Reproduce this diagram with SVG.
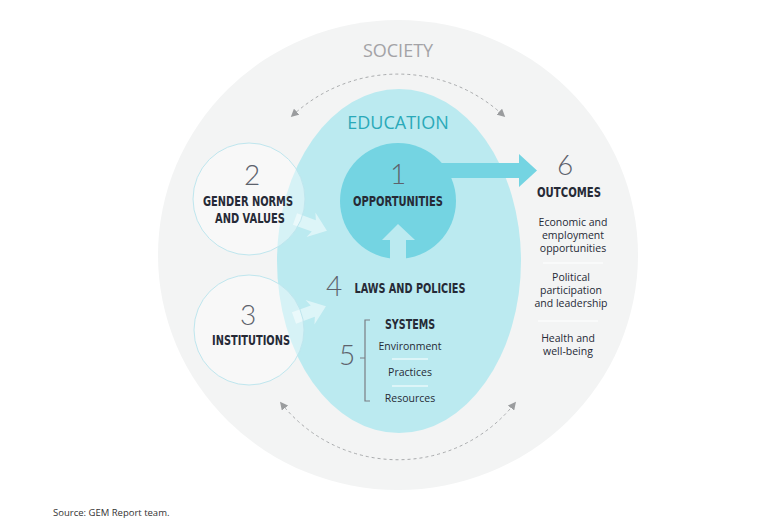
<svg xmlns="http://www.w3.org/2000/svg" width="782" height="524" viewBox="0 0 782 524">
<style>
  .lbl{font-family:"Liberation Sans Narrow","DejaVu Sans Condensed","Liberation Sans",sans-serif;font-weight:bold;font-size:13.5px;fill:#262a36;text-anchor:middle}
  .num{font-family:"Lato","Open Sans",sans-serif;font-weight:300;font-size:28px;fill:#5d626c;text-anchor:middle}
  .sm{font-family:"Open Sans","Liberation Sans",sans-serif;font-size:10.5px;fill:#262a36;text-anchor:middle}
  .ttl{font-family:"Open Sans","Liberation Sans",sans-serif;font-size:18px;text-anchor:middle}
  .dash{fill:none;stroke:#a9abad;stroke-width:1;stroke-dasharray:3,3}
  .div{stroke:#ffffff;stroke-width:1.2}
  .ring{fill:#ffffff;fill-opacity:0.4;stroke:#bfe6ee;stroke-width:1}
  .warr{fill:#ffffff;fill-opacity:0.5}
</style>
<defs>
  <marker id="ah" viewBox="0 0 10 10" refX="8" refY="5" markerWidth="8" markerHeight="8" markerUnits="userSpaceOnUse" orient="auto-start-reverse">
    <path d="M0,0 L10,5 L0,10 z" fill="#9a9c9e"/>
  </marker>
</defs>
<rect width="782" height="524" fill="#ffffff"/>
<g id="society">
  <ellipse cx="398" cy="255" rx="240" ry="235" fill="#f3f4f4"/>
  <text class="ttl" x="398" y="57" fill="#a3a3a6">SOCIETY</text>
</g>
<g id="education">
  <ellipse cx="399" cy="261" rx="122" ry="172" fill="#bbeaf0"/>
  <text class="ttl" x="398" y="129" fill="#2aa9b9">EDUCATION</text>
</g>
<g id="connectors">
  <path class="dash" d="M292,116 A155,155 0 0 1 504,116" marker-start="url(#ah)" marker-end="url(#ah)"/>
  <path class="dash" d="M281,403 A149,149 0 0 0 515,403" marker-start="url(#ah)" marker-end="url(#ah)"/>
  <path class="warr" d="M0,-6 L20,-6 L17,-13 L34,0 L17,13 L20,6 L0,6 z" transform="translate(295,219) rotate(20)"/>
  <path class="warr" d="M0,-6 L20,-6 L17,-13 L34,0 L17,13 L20,6 L0,6 z" transform="translate(294,318) rotate(-20)"/>
</g>
<g id="opportunities">
  <circle cx="398" cy="201" r="58" fill="#74d4e2"/>
  <path d="M390,262 L390,240 L382,240 L398,224 L415,240 L406,240 L406,262 z" fill="#bbeaf0"/>
  <path d="M425,163 L519,163 L519,154 L537,170.5 L519,187 L519,178 L425,178 z" fill="#74d4e2"/>
  <text class="num" x="398" y="184">1</text>
  <text class="lbl" x="398" y="206" textLength="90" lengthAdjust="spacingAndGlyphs">OPPORTUNITIES</text>
</g>
<g id="gender">
  <circle class="ring" cx="249" cy="199" r="56"/>
  <text class="num" x="252" y="185">2</text>
  <text class="lbl" x="248" y="206" textLength="90" lengthAdjust="spacingAndGlyphs">GENDER NORMS</text>
  <text class="lbl" x="250" y="223" textLength="70" lengthAdjust="spacingAndGlyphs">AND VALUES</text>
</g>
<g id="institutions">
  <circle class="ring" cx="249" cy="330" r="55"/>
  <text class="num" x="248" y="325">3</text>
  <text class="lbl" x="251" y="345" textLength="78" lengthAdjust="spacingAndGlyphs">INSTITUTIONS</text>
</g>
<g id="laws">
  <text class="num" x="334" y="296">4</text>
  <text class="lbl" x="410" y="293" textLength="111" lengthAdjust="spacingAndGlyphs">LAWS AND POLICIES</text>
</g>
<g id="systems">
  <text class="num" x="347" y="365">5</text>
  <path d="M370,320 L365,320 L365,401 L370,401 M360,358 L365,358" fill="none" stroke="#7a7d84" stroke-width="1.2"/>
  <text class="lbl" x="410" y="329" textLength="50" lengthAdjust="spacingAndGlyphs">SYSTEMS</text>
  <text class="sm" x="410" y="350">Environment</text>
  <line class="div" x1="392" y1="359" x2="428" y2="359"/>
  <text class="sm" x="410" y="376">Practices</text>
  <line class="div" x1="392" y1="386" x2="428" y2="386"/>
  <text class="sm" x="410" y="402">Resources</text>
</g>
<g id="outcomes">
  <text class="num" x="565" y="175">6</text>
  <text class="lbl" x="569" y="197" textLength="64" lengthAdjust="spacingAndGlyphs">OUTCOMES</text>
  <text class="sm" x="573" y="226">Economic and</text>
  <text class="sm" x="573" y="239">employment</text>
  <text class="sm" x="573" y="252">opportunities</text>
  <line class="div" x1="543" y1="263" x2="603" y2="263"/>
  <text class="sm" x="571" y="281">Political</text>
  <text class="sm" x="571" y="294">participation</text>
  <text class="sm" x="571" y="307">and leadership</text>
  <line class="div" x1="538" y1="321" x2="598" y2="321"/>
  <text class="sm" x="568" y="342">Health and</text>
  <text class="sm" x="568" y="355">well-being</text>
</g>
<text x="53" y="516" font-family="'Open Sans','Liberation Sans',sans-serif" font-size="9.5" fill="#333">Source: GEM Report team.</text>
</svg>
